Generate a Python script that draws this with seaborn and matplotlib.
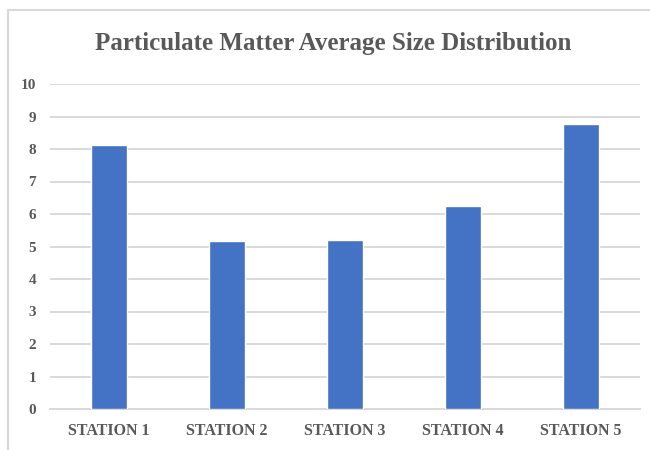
import matplotlib
matplotlib.use("Agg")
import matplotlib.pyplot as plt
from matplotlib.lines import Line2D
import seaborn as sns
import pandas as pd

stations = ["STATION 1", "STATION 2", "STATION 3", "STATION 4", "STATION 5"]
avg_size = [8.11, 5.17, 5.20, 6.26, 8.76]
y_ticks = list(range(0, 11))

sns.set_theme(style="white")
plt.rcParams["font.family"] = ["Liberation Serif", "DejaVu Serif"]

W, H = 650, 450
fig = plt.figure(figsize=(W / 100, H / 100), dpi=100)
fig.patch.set_facecolor("white")

# axes placed in pixel terms
left, right, top, bottom = 50, 640, 84, 409
ax = fig.add_axes([left / W, (H - bottom) / H, (right - left) / W, (bottom - top) / H])

df = pd.DataFrame({"station": stations, "size": avg_size})
sns.barplot(data=df, x="station", y="size", color="#4472C4", width=0.31,
            saturation=1, ax=ax, zorder=3)

ax.set_ylim(0, 10)
ax.set_xlim(-0.5, len(stations) - 0.5)
ax.set_yticks(y_ticks)
ax.yaxis.grid(True, color="#D9D9D9", linewidth=1.4, zorder=0)
ax.set_axisbelow(True)
for s in ["top", "right", "left"]:
    ax.spines[s].set_visible(False)
ax.spines["bottom"].set_color("#D9D9D9")
ax.spines["bottom"].set_linewidth(1.4)
ax.set_xlabel("")
ax.set_ylabel("")
ax.tick_params(axis="both", length=0, labelsize=11.5, labelcolor="#595959")
ax.tick_params(axis="y", labelsize=11, pad=10)
ax.tick_params(axis="x", pad=10)
for lbl in ax.get_xticklabels() + ax.get_yticklabels():
    lbl.set_fontweight("bold")

fig.text(333 / W, 1 - 50 / H, "Particulate Matter Average Size Distribution",
         ha="center", va="baseline", fontsize=18, fontweight="bold", color="#595959")

# outer chart frame
fig.add_artist(Line2D([7.5 / W, 7.5 / W], [0, 1 - 9.5 / H], color="#D9D9D9", lw=1.5))
fig.add_artist(Line2D([7.5 / W, 1], [1 - 9.5 / H, 1 - 9.5 / H], color="#D9D9D9", lw=1.5))

fig.savefig("out.png", dpi=100)
